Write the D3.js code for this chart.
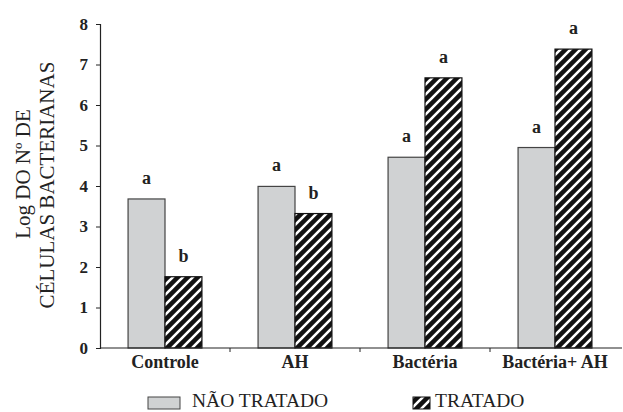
<!DOCTYPE html>
<html>
<head>
<meta charset="utf-8">
<script src="https://cdn.jsdelivr.net/npm/d3@7"></script>
<style>
  body { margin: 0; background: #fff; }
  svg { display: block; font-family: "Liberation Serif", "Times New Roman", serif; }
</style>
</head>
<body>
<svg width="623" height="412"></svg>
<script>
const categories = ["Controle", "AH", "Bactéria", "Bactéria + AH"];
const series = ["NÃO TRATADO", "TRATADO"];
const naoTratado = [3.68, 3.99, 4.71, 4.95];
const tratado = [1.76, 3.32, 6.67, 7.38];
const lettersNaoTratado = ["a", "a", "a", "a"];
const lettersTratado = ["b", "b", "a", "a"];
const yTicks = [0, 1, 2, 3, 4, 5, 6, 7, 8];

const svg = d3.select("svg");
const grey = "#d0d2d3";

// hatch pattern: black with white diagonal stripes
const defs = svg.append("defs");
const pat = defs.append("pattern")
    .attr("id", "hatch")
    .attr("patternUnits", "userSpaceOnUse")
    .attr("width", 10).attr("height", 10);
pat.append("rect").attr("width", 10).attr("height", 10).attr("fill", "#111");
pat.append("path")
    .attr("d", "M-5,5 L5,-5 M0,10 L10,0 M5,15 L15,5")
    .attr("stroke", "#fff").attr("stroke-width", 2.6);

const x0 = d3.scaleBand().domain(categories).range([100, 620]).padding(0);
const x1 = d3.scaleBand().domain(series).range([0, x0.bandwidth()]).paddingInner(0).paddingOuter(0.76);
const y = d3.scaleLinear().domain([0, 8]).range([348, 24]);

const rows = categories.map((c, i) => ({
    cat: c,
    vals: [
        { s: series[0], v: naoTratado[i], lab: lettersNaoTratado[i] },
        { s: series[1], v: tratado[i], lab: lettersTratado[i] }
    ]
}));

const groups = svg.append("g").selectAll("g").data(rows).join("g")
    .attr("transform", d => `translate(${x0(d.cat)},0)`);

groups.selectAll("rect").data(d => d.vals).join("rect")
    .attr("x", d => x1(d.s))
    .attr("y", d => y(d.v))
    .attr("width", x1.bandwidth())
    .attr("height", d => y(0) - y(d.v))
    .attr("fill", d => d.s === series[0] ? grey : "url(#hatch)")
    .attr("stroke", d => d.s === series[0] ? "#444" : "#111")
    .attr("stroke-width", 1.2);

groups.selectAll("text").data(d => d.vals).join("text")
    .attr("x", d => x1(d.s) + x1.bandwidth() / 2)
    .attr("y", d => y(d.v) - 15)
    .attr("text-anchor", "middle")
    .attr("font-weight", "bold")
    .attr("font-size", 18)
    .attr("fill", "#222")
    .text(d => d.lab);

// y axis
const yAxis = svg.append("g")
    .attr("transform", "translate(100,0)")
    .call(d3.axisLeft(y).tickValues(yTicks).tickFormat(d3.format("d")).tickSize(4).tickPadding(8));
yAxis.select(".domain").attr("stroke", "#222").attr("stroke-width", 1.2);
yAxis.selectAll(".tick line").attr("stroke", "#222");
yAxis.selectAll(".tick text")
    .attr("font-family", "Liberation Serif, serif")
    .attr("font-size", 17).attr("font-weight", "bold").attr("fill", "#222");

// x axis
const xAxis = svg.append("g")
    .attr("transform", `translate(0,${y(0)})`)
    .call(d3.axisBottom(x0).tickSize(0).tickPadding(7));
xAxis.select(".domain").attr("d", "M100,0H622").attr("stroke", "#222").attr("stroke-width", 1.2);
xAxis.selectAll(".tick text")
    .attr("font-family", "Liberation Serif, serif")
    .attr("font-size", 18).attr("font-weight", "bold").attr("fill", "#222")
    .text(d => d.replace(" + ", "+ "));
xAxis.selectAll(".sep").data(categories.slice(1)).join("line")
    .attr("class", "sep")
    .attr("x1", d => x0(d)).attr("x2", d => x0(d))
    .attr("y1", 0).attr("y2", 4)
    .attr("stroke", "#222");

// y title
const yTitle = svg.append("g").attr("font-size", 21).attr("fill", "#222").attr("text-anchor", "middle");
yTitle.append("text")
    .attr("transform", "translate(30,174) rotate(-90)")
    .text("Log DO Nº DE");
yTitle.append("text")
    .attr("transform", "translate(54,185) rotate(-90)")
    .text("CÉLULAS BACTERIANAS");

// legend
const legend = svg.append("g");
legend.append("rect").attr("x", 148).attr("y", 397).attr("width", 32).attr("height", 12)
    .attr("fill", grey).attr("stroke", "#444");
legend.append("text").attr("x", 192).attr("y", 407).attr("font-size", 19.5).attr("fill", "#222").text(series[0]);
legend.append("rect").attr("x", 413).attr("y", 397).attr("width", 17).attr("height", 12)
    .attr("fill", "url(#hatch)").attr("stroke", "#111");
legend.append("text").attr("x", 435).attr("y", 407).attr("font-size", 19.5).attr("fill", "#222").text(series[1]);
</script>
</body>
</html>
